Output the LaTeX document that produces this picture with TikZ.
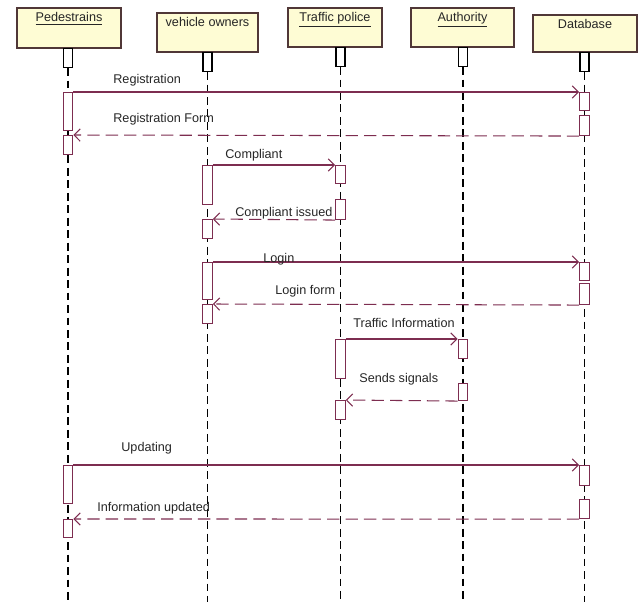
\documentclass[tikz,border=0pt]{standalone}
\usepackage{fontspec}
\setmainfont{Liberation Sans}
\usetikzlibrary{arrows.meta}
\definecolor{msgred}{RGB}{125,45,80}
\definecolor{headfill}{RGB}{254,252,212}
\definecolor{headline}{RGB}{80,55,55}
\tikzset{
  head/.style={draw=headline, fill=headfill, line width=0.8pt, inner sep=0pt},
  headtext/.style={anchor=base, inner sep=0pt, yshift=-0.28cm, text=black!85},
  stub/.style={draw=black, fill=white, line width=0.6pt, minimum width=0.18cm, minimum height=0.38cm, inner sep=0pt, anchor=north},
  act/.style={draw=msgred, fill=white, line width=0.6pt, minimum width=0.19cm, minimum height=#1*0.02cm, inner sep=0pt, anchor=north},
  life/.style={draw=black, line width=0.8pt, dash pattern=on 4.5pt off 2.6pt},
  call/.style={draw=msgred, line width=0.6pt, -{Straight Barb[length=3.5pt,width=7pt]}},
  reply/.style={call, dash pattern=on 7pt off 3.5pt},
  msgtext/.style={anchor=base west, inner sep=0pt, text=black!85}
}
\begin{document}
\begin{tikzpicture}[x=0.02cm, y=-0.02cm, font=\fontsize{7.2}{8.6}\selectfont]
  \useasboundingbox (0,0) rectangle (643,602);
  \coordinate (bot) at (0,602);

  \node[head, minimum width=2.08cm, minimum height=0.8cm] (ped) at (69,28) {};
  \node[head, minimum width=2.02cm, minimum height=0.78cm] (veh) at (207.5,32.5) {};
  \node[head, minimum width=1.88cm, minimum height=0.78cm] (tp) at (335,27.5) {};
  \node[head, minimum width=2.06cm, minimum height=0.78cm] (auth) at (462.5,27.5) {};
  \node[head, minimum width=2.08cm, minimum height=0.74cm] (db) at (585,33.5) {};
  \node[headtext] (pedt) at (ped.north) {\underline{Pedestrains}};
  \node[headtext] (veht) at (veh.north) {vehicle owners};
  \node[headtext] (tpt) at (tp.north) {\underline{Traffic police}};
  \node[headtext] (autht) at (auth.north) {\underline{Authority}};
  \node[headtext] (dbt) at (db.north) {Database};

  \node[stub] (pedb) at (68,48) {};
  \node[stub] (vehb) at (207.5,52) {};
  \node[stub] (tpb) at (340.5,47) {};
  \node[stub] (authb) at (463,47) {};
  \node[stub] (dbb) at (584.5,52) {};

  \draw[life] (pedb.south) -- (pedb.south |- bot);
  \draw[life] (vehb.south) -- (vehb.south |- bot);
  \draw[life] (tpb.south) -- (tpb.south |- bot);
  \draw[life] (authb.south) -- (authb.south |- bot);
  \draw[life] (dbb.south) -- (dbb.south |- bot);

  \node[act=38] (p1) at (68,92) {};
  \node[act=19] (p2) at (68,135) {};
  \node[act=38] (p3) at (68,465) {};
  \node[act=18] (p4) at (68,519) {};
  \node[act=39] (v1) at (207.5,165) {};
  \node[act=19] (v2) at (207.5,219) {};
  \node[act=37] (v3) at (207.5,262) {};
  \node[act=19] (v4) at (207.5,304) {};
  \node[act=18] (t1) at (340.5,165) {};
  \node[act=20] (t2) at (340.5,199) {};
  \node[act=39] (t3) at (340.5,339) {};
  \node[act=19] (t4) at (340.5,400) {};
  \node[act=19] (a1) at (463,339) {};
  \node[act=17] (a2) at (463,383) {};
  \node[act=18] (d1) at (584.5,92) {};
  \node[act=20] (d2) at (584.5,115) {};
  \node[act=18] (d3) at (584.5,262) {};
  \node[act=21] (d4) at (584.5,283) {};
  \node[act=20] (d5) at (584.5,465) {};
  \node[act=19] (d6) at (584.5,499) {};

  \draw[call] (p1.north east) -- (d1.north west);
  \draw[reply] (d2.south west) -- (p2.north east);
  \draw[call] (v1.north east) -- (t1.north west);
  \draw[reply] (t2.south west) -- (v2.north east);
  \draw[call] (v3.north east) -- (d3.north west);
  \draw[reply] (d4.south west) -- (v4.north east);
  \draw[call] (t3.north east) -- (a1.north west);
  \draw[reply] (a2.south west) -- (t4.north east);
  \draw[call] (p3.north east) -- (d5.north west);
  \draw[reply] (d6.south west) -- (p4.north east);

  \node[msgtext] (lreg) at (113,83) {Registration};
  \node[msgtext] (lregform) at (113,122) {Registration Form};
  \node[msgtext] (lcomp) at (225,158) {Compliant};
  \node[msgtext] (lcompiss) at (235,216) {Compliant issued};
  \node[msgtext] (llogin) at (263,262) {Login};
  \node[msgtext] (lloginform) at (275,294) {Login form};
  \node[msgtext] (ltraffic) at (353,327) {Traffic Information};
  \node[msgtext] (lsignals) at (359,382) {Sends signals};
  \node[msgtext] (lupdating) at (121,451) {Updating};
  \node[msgtext] (lupdated) at (97,511) {Information updated};
\end{tikzpicture}
\end{document}
